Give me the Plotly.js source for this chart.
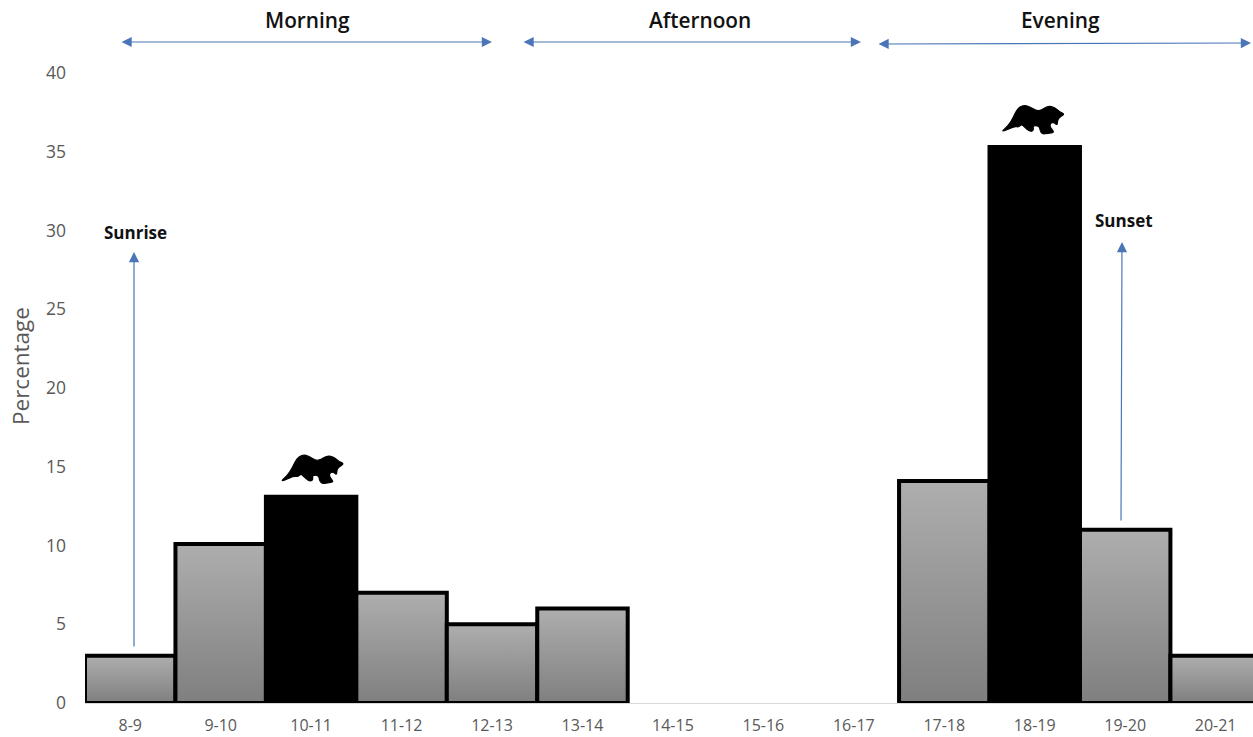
<!DOCTYPE html>
<html><head><meta charset="utf-8">
<script src="https://cdn.plot.ly/plotly-3.0.1.min.js"></script>
<style>html,body{margin:0;padding:0;background:#fff;overflow:hidden}</style>
</head><body><div id="chart" style="width:1253px;height:737px"></div>
<script>
const hours = ['8-9','9-10','10-11','11-12','12-13','13-14','14-15','15-16','16-17','17-18','18-19','19-20','20-21'];
const percentage = [3,10.1,13.1,7,5,6,0,0,0,14.1,35.3,11,3];
const peakHours = ['10-11','18-19'];
const yTicks = [0,5,10,15,20,25,30,35,40];
const periods = ['Morning','Afternoon','Evening'];

const W=1253,H=737,L=85,T=73,B=34;
const PW=W-L,PH=H-T-B;
const px=x=>(x-L)/PW, py=y=>1-(y-T)/PH;
const BLUE='#4a76b8';

function arrow(x1,y1,x2,y2,both){
  return {xref:'paper',yref:'paper',axref:'pixel',ayref:'pixel',x:px(x2),y:py(y2),ax:x1-x2,ay:y1-y2,
    text:'',showarrow:true,arrowhead:2,arrowsize:1.7,arrowwidth:1.2,arrowcolor:BLUE,
    arrowside:both?'end+start':'end',standoff:0,startstandoff:0,startarrowhead:2,startarrowsize:1.7};
}
function label(t,x,y,size,weight){
  return {xref:'paper',yref:'paper',x:px(x),y:py(y),text:t,showarrow:false,xanchor:'center',yanchor:'middle',
    font:{family:'"Open Sans",sans-serif',size:size,color:'#111',weight:weight}};
}
const annotations=[
  label(periods[0],307,19.5,20.8,600),label(periods[1],700,19.5,20.8,600),label(periods[2],1060,19.5,20.8,600),
  label('Sunrise',135,232,17,700),label('Sunset',1124,220,17,700),
  {xref:'paper',yref:'paper',x:px(20),y:py(366),text:'Percentage',textangle:-90,showarrow:false,xanchor:'center',yanchor:'middle',
    font:{family:'"Open Sans",sans-serif',size:22.5,color:'#595959'}},
  arrow(120,42,492,42,true),arrow(522,42,861,42,true),arrow(877,44,1251,43,true),
  arrow(134,648,134,252,false),arrow(1121,522,1122,242,false)
];
// otter outline, px relative to bar top centre
const otter=[[-31,14.8],[-23.7,21],[-18.7,29],[-14.7,38],[-8.7,42],[-2,40.5],[4.7,36],[9.7,37],[16.3,41.2],[23,39.5],[28,35],[33,33],[28,30],[25.7,27],[25.6,21.5],[22,25],[18.3,23.5],[18.3,19.7],[23,14.5],[16.3,13.8],[10.5,12.8],[8.2,17],[7.3,21.5],[1,21.5],[2,16.5],[-2,15.3],[-7,19.8],[-10.3,23],[-12.7,20],[-17,20.5],[-20.3,19.2]];
const fmt=n=>n.toFixed(1);
function otterPath(dx){
  const pts=otter.map(p=>[p[0]+dx,p[1]]);
  const mid=(a,b)=>[(a[0]+b[0])/2,(a[1]+b[1])/2];
  let m=mid(pts[pts.length-1],pts[0]);
  let d='M'+fmt(m[0])+','+fmt(m[1]);
  pts.forEach((p,i)=>{const n=mid(p,pts[(i+1)%pts.length]);d+='Q'+fmt(p[0])+','+fmt(p[1])+' '+fmt(n[0])+','+fmt(n[1]);});
  return d+'Z';
}
const shapes=peakHours.map((h,i)=>({type:'path',xref:'x',yref:'y',xsizemode:'pixel',ysizemode:'pixel',
  xanchor:hours.indexOf(h),yanchor:percentage[hours.indexOf(h)],path:otterPath(i?-3:0),
  fillcolor:'#000',line:{color:'#000',width:1.2}}));

const data=[{type:'bar',x:hours.map((_,i)=>i),y:percentage,width:1,
  marker:{color:hours.map(h=>peakHours.includes(h)?'#000':'#999'),
    line:{color:'#000',width:percentage.map(v=>v>0?4:0)}},hoverinfo:'skip'}];
const layout={width:W,height:H,margin:{l:L,r:0,t:T,b:B,pad:0},paper_bgcolor:'#fff',plot_bgcolor:'#fff',showlegend:false,
  font:{family:'"Open Sans",sans-serif',color:'#595959'},
  xaxis:{range:[-0.5,12.413],tickmode:'array',tickvals:hours.map((_,i)=>i),ticktext:hours,showgrid:false,zeroline:false,showline:true,linecolor:'#d9d9d9',linewidth:1,ticks:'',
    tickfont:{size:16,color:'#595959'},ticklabelstandoff:8},
  yaxis:{range:[0,40],tickmode:'array',tickvals:yTicks,showgrid:false,zeroline:false,showline:false,ticks:'',
    tickfont:{size:17.5,color:'#595959'},ticklabelstandoff:18},
  annotations,shapes,bargap:0};
Plotly.newPlot('chart',data,layout,{displayModeBar:false,staticPlot:true}).then(gd=>{
  const svg=gd.querySelector('svg.main-svg');
  const NS='http://www.w3.org/2000/svg';
  let defs=svg.querySelector('defs');
  const g=document.createElementNS(NS,'linearGradient');
  g.setAttribute('id','barGrad');g.setAttribute('x1','0');g.setAttribute('y1','0');g.setAttribute('x2','0');g.setAttribute('y2','1');
  [['0','#aeaeae'],['1','#7f7f7f']].forEach(s=>{const e=document.createElementNS(NS,'stop');e.setAttribute('offset',s[0]);e.setAttribute('stop-color',s[1]);g.appendChild(e);});
  defs.appendChild(g);
  gd.querySelectorAll('.bars .point path').forEach(p=>{
    if(p.style.fill.indexOf('153')>=0) p.style.fill='url(#barGrad)';
  });
});
</script></body></html>
